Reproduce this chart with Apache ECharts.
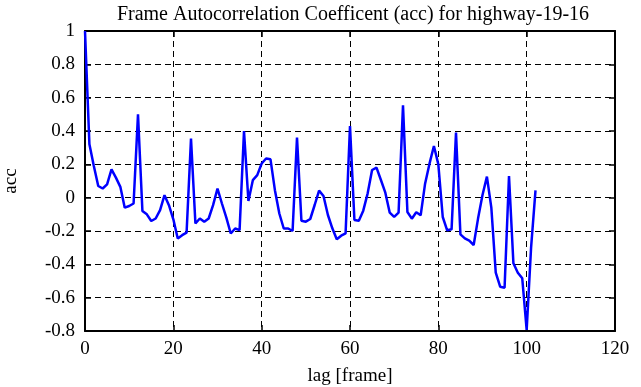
<!DOCTYPE html>
<html><head><meta charset="utf-8">
<script src="https://cdn.jsdelivr.net/npm/echarts@6/dist/echarts.min.js"></script>
<style>html,body{margin:0;padding:0;background:#fff}#c{width:641px;height:387px}</style>
</head><body><div id="c"></div>
<script>
const titleText = 'Frame Autocorrelation Coefficent (acc) for highway-19-16';
const xName = 'lag [frame]';
const yName = 'acc';
const lags = [0,1,2,3,4,5,6,7,8,9,10,11,12,13,14,15,16,17,18,19,20,21,22,23,24,25,26,27,28,29,30,31,32,33,34,35,36,37,38,39,40,41,42,43,44,45,46,47,48,49,50,51,52,53,54,55,56,57,58,59,60,61,62,63,64,65,66,67,68,69,70,71,72,73,74,75,76,77,78,79,80,81,82,83,84,85,86,87,88,89,90,91,92,93,94,95,96,97,98,99,100,101,102];
const acc = [1.0,0.32,0.19,0.07,0.055,0.08,0.17,0.12,0.065,-0.06,-0.05,-0.035,0.5,-0.08,-0.1,-0.14,-0.125,-0.075,0.015,-0.045,
  -0.13,-0.245,-0.225,-0.21,0.355,-0.155,-0.125,-0.145,-0.125,-0.045,0.055,-0.035,-0.12,-0.215,-0.185,-0.195,0.40,-0.02,0.105,0.135,
  0.205,0.235,0.23,0.045,-0.095,-0.185,-0.185,-0.2,0.36,-0.138,-0.144,-0.128,-0.044,0.042,0.01,-0.104,-0.184,-0.25,-0.228,-0.214,
  0.43,-0.134,-0.138,-0.078,0.026,0.166,0.18,0.106,0.03,-0.09,-0.115,-0.09,0.554,-0.086,-0.126,-0.088,-0.106,0.084,0.204,0.31,
  0.2,-0.116,-0.196,-0.19,0.39,-0.22,-0.244,-0.258,-0.284,-0.124,0.016,0.126,-0.06,-0.45,-0.534,-0.54,0.13,-0.394,-0.45,-0.484,
  -0.794,-0.3,0.044];
const xMin = 0, xMax = 120, xStep = 20;
const yMin = -0.8, yMax = 1, yStep = 0.2;

const font = 'Liberation Serif';
const fs = 19;
const chart = echarts.init(document.getElementById('c'), null, {renderer: 'canvas'});
const fmt = v => { const r = Math.round(v * 10) / 10; return (Object.is(r, -0) ? 0 : r).toString(); };
const dash = {color: '#000', width: 1, type: [6, 4]};
const axisCommon = {
  axisLine: {show: true, onZero: false, lineStyle: {color: '#000', width: 2}},
  axisTick: {show: true, inside: true, length: 6, lineStyle: {color: '#000', width: 1.5}},
};
chart.setOption({
  animation: false,
  backgroundColor: '#fff',
  title: {text: titleText, left: 348, top: 0, textAlign: 'center',
    textStyle: {fontFamily: font, fontSize: 20, fontWeight: 'normal', color: '#000'}},
  grid: {left: 85, right: 26, top: 31, bottom: 56, containLabel: false, outerBoundsMode: 'none'},
  xAxis: [
    Object.assign({type: 'value', min: xMin, max: xMax, interval: xStep, position: 'bottom',
      name: xName, nameLocation: 'middle', nameGap: 36,
      nameTextStyle: {fontFamily: font, fontSize: fs, color: '#000'},
      axisLabel: {fontFamily: font, fontSize: fs, color: '#000', margin: 9, formatter: fmt},
      splitLine: {show: true, lineStyle: dash}}, axisCommon),
    Object.assign({type: 'value', min: xMin, max: xMax, interval: xStep, position: 'top',
      axisLabel: {show: false}, splitLine: {show: false}}, axisCommon)
  ],
  yAxis: [
    Object.assign({type: 'value', min: yMin, max: yMax, interval: yStep, position: 'left',
      name: yName, nameLocation: 'middle', nameGap: 64, nameRotate: 90,
      nameTextStyle: {fontFamily: font, fontSize: fs, color: '#000'},
      axisLabel: {fontFamily: font, fontSize: fs, color: '#000', margin: 10, formatter: fmt},
      splitLine: {show: true, lineStyle: dash}}, axisCommon),
    Object.assign({type: 'value', min: yMin, max: yMax, interval: yStep, position: 'right',
      axisLabel: {show: false}, splitLine: {show: false}}, axisCommon)
  ],
  series: [{
    type: 'line', xAxisIndex: 0, yAxisIndex: 0,
    data: lags.map((l, i) => [l, acc[i]]),
    showSymbol: false, symbol: 'none',
    lineStyle: {color: '#0000ff', width: 2.5},
    clip: true
  }]
});
</script></body></html>
